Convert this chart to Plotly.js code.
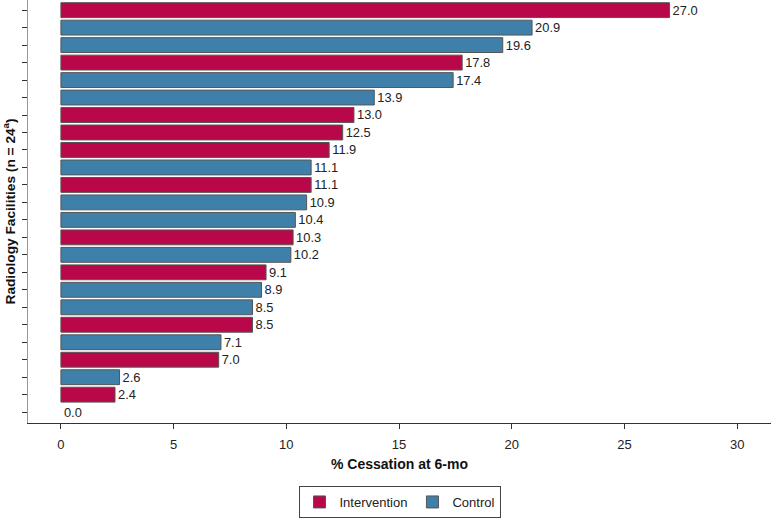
<!DOCTYPE html>
<html>
<head>
<meta charset="utf-8">
<script src="https://cdn.plot.ly/plotly-3.0.1.min.js"></script>
<style>html,body{margin:0;padding:0;background:#fff;}#chart{width:771px;height:518px;}</style>
</head>
<body>
<div id="chart"></div>
<script>
// Facilities listed top to bottom
const facilities = ["F1","F2","F3","F4","F5","F6","F7","F8","F9","F10","F11","F12","F13","F14","F15","F16","F17","F18","F19","F20","F21","F22","F23","F24"];
const cessation = [27.0,20.9,19.6,17.8,17.4,13.9,13.0,12.5,11.9,11.1,11.1,10.9,10.4,10.3,10.2,9.1,8.9,8.5,8.5,7.1,7.0,2.6,2.4,0.0];
const arm = ["Intervention","Control","Control","Intervention","Control","Control","Intervention","Intervention","Intervention","Control","Intervention","Control","Control","Intervention","Control","Intervention","Control","Control","Intervention","Control","Intervention","Control","Intervention","Intervention"];
const armNames = ["Intervention","Control"];
const armColors = {"Intervention":"#b8084a","Control":"#3f80ab"};

const FONT = 'Liberation Sans, Arial, Helvetica, sans-serif';

const traces = armNames.map(name => {
  const ys = [], xs = [];
  facilities.forEach((f,i) => { if (arm[i] === name) { ys.push(f); xs.push(cessation[i]); } });
  return {
    type: 'bar', orientation: 'h', name: name,
    x: xs, y: ys,
    text: xs.map(v => v.toFixed(1)), textposition: 'outside', cliponaxis: false,
    textfont: {family: FONT, size: 13, color: '#222'},
    marker: {color: armColors[name], line: {color: '#555', width: xs.map(v => v === 0 ? 0 : 1)}},
    width: 0.85, hoverinfo: 'x'
  };
});

const layout = {
  width: 771, height: 518,
  margin: {l: 28, r: 0, t: 0, b: 90},
  paper_bgcolor: '#fff', plot_bgcolor: '#fff',
  font: {family: FONT, size: 13, color: '#222'},
  barmode: 'overlay',
  showlegend: true,
  xaxis: {
    range: [-1.46, 31.5], tickvals: [0,5,10,15,20,25,30], showgrid: false, zeroline: false,
    showline: true, linecolor: '#333', linewidth: 1,
    ticks: 'outside', ticklen: 5, tickcolor: '#333',
    ticklabelstandoff: 4,
    tickfont: {size: 13, color: '#222'},
    title: {text: '<b>% Cessation at 6-mo</b>', font: {size: 14, color: '#111'}, standoff: 8},
    automargin: false
  },
  yaxis: {
    type: 'category', categoryorder: 'array', categoryarray: facilities,
    range: [23.62, -0.58], showgrid: false, zeroline: false,
    showline: true, linecolor: '#999', linewidth: 1,
    ticks: 'outside', ticklen: 5, tickcolor: '#333', showticklabels: false,
    title: {text: '<b>Radiology Facilities (n = 24<sup>a</sup>)</b>', font: {size: 13.7, color: '#111'}, standoff: 4},
    automargin: false
  },
  legend: {
    orientation: 'h', x: 0.5, xanchor: 'center', y: -0.15, yanchor: 'top',
    bordercolor: '#444', borderwidth: 1, itemwidth: 30,
    font: {size: 13, color: '#222'}, traceorder: 'normal'
  }
};

Plotly.newPlot('chart', traces, layout, {displayModeBar: false, staticPlot: true});
</script>
</body>
</html>
